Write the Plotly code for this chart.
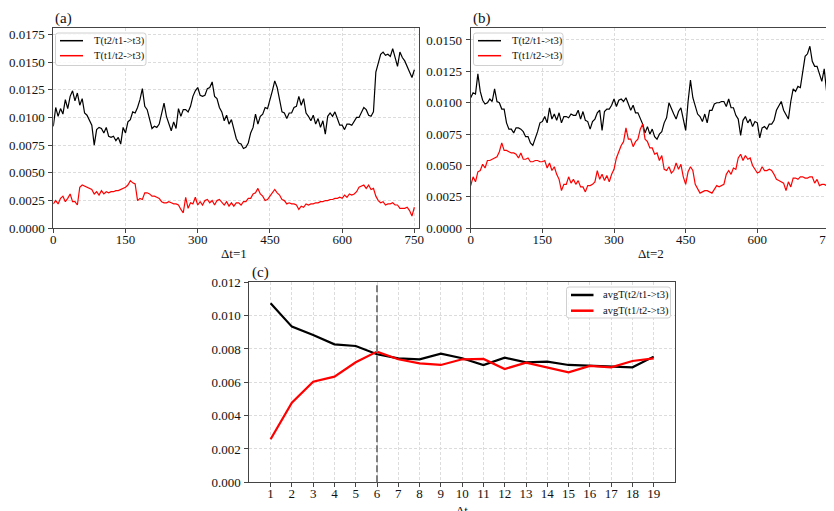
import plotly.graph_objects as go

# ---------------- data ----------------
SCALE = 1e-4  # values below are read in units of 1e-4
# panel (a): delta t = 1, sampled every 5 steps
a_black = [92, 109, 101, 108, 103, 116, 108, 119, 124, 115,
           122, 111, 117, 104, 102, 97, 93, 75, 89, 91,
           90, 86, 91, 83, 82, 83, 79, 82, 76, 91,
           86, 96, 98, 105, 104, 109, 116, 126, 110, 107,
           99, 90, 92, 91, 94, 105, 113, 101, 94, 88,
           96, 90, 108, 101, 107, 107, 105, 110, 119, 124,
           127, 120, 119, 120, 126, 127, 132, 119, 117, 109,
           105, 97, 102, 94, 98, 89, 81, 77, 76, 72,
           73, 77, 86, 91, 103, 94, 101, 103, 109, 108,
           115, 124, 133, 127, 116, 105, 104, 99, 104, 104,
           109, 110, 119, 111, 117, 104, 101, 97, 102, 94,
           99, 91, 97, 85, 101, 104, 101, 105, 99, 93,
           93, 89, 94, 94, 93, 96, 100, 100, 105, 109,
           107, 102, 101, 105, 141, 150, 157, 159, 156, 157,
           155, 162, 153, 146, 159, 154, 151, 145, 141, 136,
           143]
a_red = [22, 25, 22, 27, 29, 24, 27, 31, 24, 24,
         21, 37, 39, 38, 37, 36, 35, 31, 33, 30,
         34, 31, 33, 32, 33, 33, 34, 34, 35, 36,
         37, 39, 43, 41, 40, 25, 27, 26, 32, 32,
         31, 29, 29, 28, 27, 24, 23, 23, 24, 23,
         22, 22, 21, 17, 14, 28, 18, 23, 22, 28,
         21, 24, 21, 25, 26, 23, 25, 21, 25, 26,
         23, 21, 24, 20, 23, 20, 23, 23, 21, 24,
         24, 27, 27, 31, 32, 36, 31, 29, 25, 26,
         29, 32, 35, 32, 30, 26, 25, 22, 23, 22,
         22, 21, 17, 20, 19, 22, 21, 22, 22, 23,
         23, 24, 24, 25, 25, 26, 26, 27, 27, 28,
         27, 30, 28, 31, 30, 31, 33, 37, 38, 39,
         36, 39, 35, 36, 29, 25, 23, 24, 21, 22,
         22, 23, 21, 21, 18, 18, 18, 19, 16, 11,
         19]

# panel (b): delta t = 2, sampled every 5 steps
b_black = [104, 108, 107, 123, 109, 102, 99, 100, 103, 101,
           111, 101, 100, 95, 95, 84, 79, 79, 76, 80,
           80, 79, 77, 73, 73, 68, 66, 71, 77, 84,
           85, 89, 84, 96, 87, 91, 86, 92, 84, 89,
           89, 88, 91, 90, 90, 94, 87, 93, 86, 85,
           79, 85, 87, 92, 94, 78, 93, 95, 95, 98,
           103, 97, 102, 103, 101, 104, 99, 94, 98, 92,
           92, 88, 83, 76, 81, 75, 79, 73, 71, 75,
           77, 84, 88, 100, 95, 91, 87, 93, 96, 87,
           78, 101, 118, 104, 97, 91, 89, 85, 91, 84,
           94, 94, 99, 100, 100, 101, 101, 97, 103, 96,
           96, 90, 87, 74, 86, 89, 84, 87, 81, 85,
           84, 72, 80, 81, 79, 83, 83, 86, 94, 97,
           101, 94, 91, 87, 101, 111, 109, 113, 112, 124,
           137, 139, 145, 133, 129, 129, 122, 117, 127, 109,
           128]
b_red = [34, 41, 37, 45, 46, 51, 48, 54, 54, 55,
         56, 57, 61, 68, 62, 62, 61, 60, 60, 59,
         56, 60, 55, 55, 56, 53, 53, 54, 54, 53,
         53, 54, 48, 52, 46, 49, 43, 39, 30, 35,
         35, 41, 36, 39, 35, 38, 33, 33, 29, 34,
         34, 35, 37, 46, 39, 43, 38, 42, 37, 43,
         47, 56, 61, 66, 69, 80, 71, 71, 65, 69,
         71, 79, 83, 71, 69, 64, 64, 59, 60, 54,
         58, 47, 46, 49, 44, 46, 52, 47, 51, 41,
         35, 45, 49, 46, 35, 32, 28, 29, 30, 30,
         29, 28, 31, 34, 33, 34, 35, 43, 46, 43,
         48, 47, 56, 59, 54, 58, 55, 56, 50, 47,
         44, 45, 49, 46, 46, 47, 46, 43, 39, 38,
         37, 36, 30, 37, 33, 40, 40, 39, 41, 41,
         40, 40, 41, 41, 36, 39, 34, 35, 35, 34,
         37]
sample_step = 5

# panel (c): averages vs delta t
dt_values = list(range(1, 20))
c_black = [0.01074, 0.00934, 0.00884, 0.00828, 0.00818, 0.00768, 0.00744, 0.00738, 0.00772, 0.00744,
           0.00704, 0.00748, 0.00720, 0.00724, 0.00704, 0.00700, 0.00698, 0.00690, 0.00754]
c_red = [0.00258, 0.00478, 0.00604, 0.00634, 0.00720, 0.00784, 0.00738, 0.00714, 0.00704, 0.00738,
         0.00740, 0.00680, 0.00718, 0.00690, 0.00660, 0.00698, 0.00690, 0.00728, 0.00744]
dt_marker = 6

name_b = "T(t2/t1->t3)"
name_r = "T(t1/t2->t3)"
avg_b = "avgT(t2/t1->t3)"
avg_r = "avgT(t1/t2->t3)"
ticks_a_x = [0, 150, 300, 450, 600, 750]
ticks_a_y = [0, 0.0025, 0.005, 0.0075, 0.01, 0.0125, 0.015, 0.0175]
ticks_b_y = [0, 0.0025, 0.005, 0.0075, 0.01, 0.0125, 0.015]
ticks_c_y = [0, 0.002, 0.004, 0.006, 0.008, 0.010, 0.012]

# ---------------- figure ----------------
# the page body has an 8px margin, so the figure is laid out in window pixels minus that offset
OFF = 8
W, H = 834 - OFF, 511 - OFF
FONT = "Liberation Serif, Times New Roman, serif"
TXT = "#111111"
fig = go.Figure()


def tx(vals):
    return [i * sample_step for i in range(len(vals))]


def sc(vals):
    return [v * SCALE for v in vals]


def px_x(p):
    return (p - OFF) / W


def px_y(p):
    return 1 - (p - OFF) / H


fig.add_trace(go.Scatter(x=tx(a_black), y=sc(a_black), mode="lines", name=name_b,
                         line=dict(color="#000000", width=1.2), xaxis="x", yaxis="y"))
fig.add_trace(go.Scatter(x=tx(a_red), y=sc(a_red), mode="lines", name=name_r,
                         line=dict(color="#ff0000", width=1.2), xaxis="x", yaxis="y"))
fig.add_trace(go.Scatter(x=tx(b_black), y=sc(b_black), mode="lines", name=name_b,
                         line=dict(color="#000000", width=1.2), xaxis="x2", yaxis="y2"))
fig.add_trace(go.Scatter(x=tx(b_red), y=sc(b_red), mode="lines", name=name_r,
                         line=dict(color="#ff0000", width=1.2), xaxis="x2", yaxis="y2"))
fig.add_trace(go.Scatter(x=dt_values, y=c_black, mode="lines", name=avg_b,
                         line=dict(color="#000000", width=2.2), xaxis="x3", yaxis="y3"))
fig.add_trace(go.Scatter(x=dt_values, y=c_red, mode="lines", name=avg_r,
                         line=dict(color="#ff0000", width=2.2), xaxis="x3", yaxis="y3"))

axis_common = dict(showline=True, mirror=True, linecolor="#444444", linewidth=1,
                   ticks="outside", ticklen=4, tickcolor="#444444", tickwidth=1,
                   showgrid=True, gridcolor="#dcdcdc", gridwidth=0.8, griddash="3px,2px",
                   zeroline=False, automargin=False, ticklabeloverflow="allow",
                   tickfont=dict(family=FONT, size=13, color=TXT))
xcommon = dict(ticklabelstandoff=-5, **axis_common)
ycommon = dict(ticklabelstandoff=1, **axis_common)

fig.update_layout(
    width=W, height=H, margin=dict(l=0, r=0, t=0, b=0, autoexpand=False),
    paper_bgcolor="white", plot_bgcolor="white",
    font=dict(family=FONT, color=TXT),
    showlegend=False,
    xaxis=dict(domain=[px_x(53.3), px_x(418.7)], range=[0, 759], tickvals=ticks_a_x, anchor="y", **xcommon),
    yaxis=dict(domain=[px_y(228.3), px_y(28.3)], range=[0, 0.01804], tickvals=ticks_a_y,
               tickformat=".4f", anchor="x", **ycommon),
    xaxis2=dict(domain=[px_x(470.7), px_x(833.3)], range=[0, 759], tickvals=ticks_a_x, anchor="y2", **xcommon),
    yaxis2=dict(domain=[px_y(228.3), px_y(28.3)], range=[0, 0.01593], tickvals=ticks_b_y,
                tickformat=".4f", anchor="x2", **ycommon),
    xaxis3=dict(domain=[px_x(249.3), px_x(675)], range=[0, 20], tickvals=dt_values, anchor="y3", **xcommon),
    yaxis3=dict(domain=[px_y(482.3), px_y(282.3)], range=[0, 0.012], tickvals=ticks_c_y,
                tickformat=".3f", anchor="x3", **ycommon),
)

fig.add_shape(type="line", xref="x3", yref="y3 domain", x0=dt_marker, x1=dt_marker, y0=0, y1=1,
              line=dict(color="#808080", width=2, dash="7px,3px"))


# ----- legends drawn as boxes, line samples and text -----
def rounded_box(x0, y0, x1, y1, r=2.5):
    X0, X1 = px_x(x0), px_x(x1)
    Y0, Y1 = px_y(y0), px_y(y1)  # Y0 top, Y1 bottom in paper coords
    rx, ry = r / W, r / H
    return (f"M {X0 + rx},{Y0} L {X1 - rx},{Y0} Q {X1},{Y0} {X1},{Y0 - ry} "
            f"L {X1},{Y1 + ry} Q {X1},{Y1} {X1 - rx},{Y1} L {X0 + rx},{Y1} "
            f"Q {X0},{Y1} {X0},{Y1 + ry} L {X0},{Y0 - ry} Q {X0},{Y0} {X0 + rx},{Y0} Z")


def add_legend(box, entries, line_x, text_x, rows, lw, size):
    fig.add_shape(type="path", xref="paper", yref="paper", path=rounded_box(*box),
                  fillcolor="rgba(255,255,255,0.85)", line=dict(color="#d0d0d0", width=1))
    for (label, color), yrow in zip(entries, rows):
        fig.add_shape(type="line", xref="paper", yref="paper",
                      x0=px_x(line_x[0]), x1=px_x(line_x[1]), y0=px_y(yrow), y1=px_y(yrow),
                      line=dict(color=color, width=lw))
        fig.add_annotation(text=label, x=px_x(text_x), y=px_y(yrow), xref="paper", yref="paper",
                           xanchor="left", yanchor="middle", showarrow=False,
                           font=dict(family=FONT, size=size, color=TXT))


add_legend((55.5, 33, 146, 65.5), [(name_b, "#000000"), (name_r, "#ff0000")],
           (60, 83), 91.5, (40.7, 55.7), 1.5, 10.5)
add_legend((473.5, 33, 563, 65.5), [(name_b, "#000000"), (name_r, "#ff0000")],
           (478, 501), 509.5, (40.7, 55.7), 1.5, 10.5)
add_legend((566.5, 287, 670.5, 318), [(avg_b, "#000000"), (avg_r, "#ff0000")],
           (571, 593.5), 601, (295, 310.7), 2.5, 10.5)

annots = [
    ("(a)", 53, 18, "left", 15),
    ("(b)", 470.5, 18, "left", 15),
    ("(c)", 250, 272, "left", 15),
    ("Δt=1", 234, 253.5, "center", 13),
    ("Δt=2", 651, 253.5, "center", 13),
    ("Δt", 462, 510.5, "center", 13),
]
for text, x, y, anc, size in annots:
    fig.add_annotation(text=text, x=px_x(x), y=px_y(y), xref="paper", yref="paper",
                       xanchor=anc, yanchor="middle", showarrow=False,
                       font=dict(family=FONT, size=size, color=TXT))

fig.write_html("out.html")
